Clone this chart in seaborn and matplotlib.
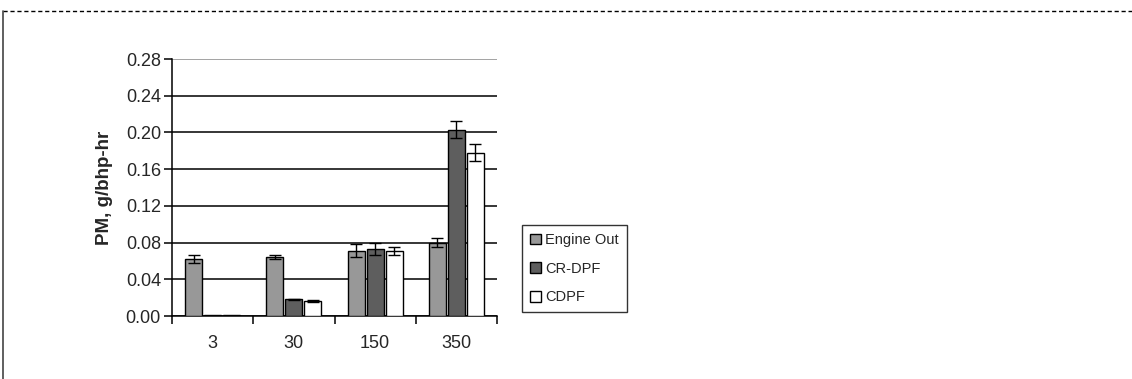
import matplotlib
matplotlib.use("Agg")
import matplotlib.pyplot as plt
from matplotlib.lines import Line2D
import pandas as pd
import seaborn as sns

# data
loads = ["3", "30", "150", "350"]
series = ["Engine Out", "CR-DPF", "CDPF"]
engine_out = [0.062, 0.064, 0.071, 0.080]
cr_dpf = [0.001, 0.018, 0.073, 0.203]
cdpf = [0.001, 0.016, 0.071, 0.178]
engine_out_err = [0.004, 0.002, 0.007, 0.005]
cr_dpf_err = [0.0, 0.001, 0.007, 0.009]
cdpf_err = [0.0, 0.001, 0.004, 0.009]
y_ticks = [0.00, 0.04, 0.08, 0.12, 0.16, 0.20, 0.24, 0.28]

colors = {"Engine Out": "#989898", "CR-DPF": "#5e5e5e", "CDPF": "#ffffff"}


def build_frame() -> pd.DataFrame:
    rows = []
    for name, vals, errs in zip(series, [engine_out, cr_dpf, cdpf],
                                [engine_out_err, cr_dpf_err, cdpf_err]):
        for load, v, e in zip(loads, vals, errs):
            rows.append({"load": load, "series": name, "pm": v, "err": e})
    return pd.DataFrame(rows)


def main() -> None:
    df = build_frame()

    sns.set_theme(style="white")
    plt.rcParams["font.family"] = ["Liberation Sans", "DejaVu Sans"]

    fig = plt.figure(figsize=(11.32, 3.79), dpi=100)
    ax = fig.add_axes([0.152, 0.1662, 0.287, 0.678])

    sns.barplot(
        data=df, x="load", y="pm", hue="series",
        order=loads, hue_order=series, palette=colors,
        width=0.7, gap=0.1, edgecolor="black", linewidth=1.0,
        errorbar=None, legend=True, ax=ax, zorder=3,
    )

    # error bars placed on the bars seaborn drew
    bars = [p for p in ax.patches if p.get_height() > 0 or p.get_width() > 0][: len(df)]
    for bar, (_, row) in zip(bars, df.iterrows()):
        if row["err"] <= 0:
            continue
        cx = bar.get_x() + bar.get_width() / 2
        ax.errorbar(cx, bar.get_height(), yerr=row["err"], color="black",
                    lw=1.0, capsize=4, capthick=1.0, zorder=4)

    ax.set_ylim(0, 0.28)
    ax.set_xlim(-0.5, len(loads) - 0.5)
    ax.set_yticks(y_ticks)
    ax.set_yticklabels([f"{t:.2f}" for t in y_ticks])
    ax.set_xlabel("")
    ax.set_ylabel("PM, g/bhp-hr", fontsize=13.5, fontweight="bold", labelpad=9)

    ax.yaxis.grid(True, color="black", lw=1.1, zorder=0)
    ax.get_ygridlines()[-1].set_color("#8a8a8a")
    ax.set_axisbelow(True)

    for s in ["top", "right"]:
        ax.spines[s].set_visible(False)
    for s in ["left", "bottom"]:
        ax.spines[s].set_color("black")
        ax.spines[s].set_linewidth(1.1)

    ax.tick_params(axis="y", direction="out", length=6, width=1.1,
                   color="black", labelsize=13, pad=2, left=True)
    ax.tick_params(axis="x", which="major", length=0, labelsize=13, pad=14)
    ax.set_xticks([i - 0.5 for i in range(len(loads) + 1)], minor=True)
    ax.tick_params(axis="x", which="minor", direction="out", length=6,
                   width=1.1, color="black", bottom=True)

    ax.legend_.remove()
    handles = [plt.Rectangle((0, 0), 1, 1, facecolor=colors[s],
                             edgecolor="black", lw=1.0) for s in series]
    leg = fig.legend(handles, series, loc="upper left",
                     bbox_to_anchor=(0.461, 0.406), frameon=True,
                     fontsize=10.5, handlelength=0.75, handleheight=0.75,
                     handletextpad=0.3, labelspacing=1.0,
                     borderpad=0.55, borderaxespad=0, fancybox=False)
    leg.get_frame().set_edgecolor("black")
    leg.get_frame().set_linewidth(1.0)

    # page frame from the source document
    fig.add_artist(Line2D([0.003, 1.0], [0.972, 0.972], color="black",
                          lw=1.0, ls=(0, (3, 2)), transform=fig.transFigure))
    fig.add_artist(Line2D([0.003, 0.003], [0.0, 0.972], color="#444444",
                          lw=1.2, transform=fig.transFigure))

    fig.savefig("out.png", dpi=100)
    plt.close(fig)


if __name__ == "__main__":
    main()
